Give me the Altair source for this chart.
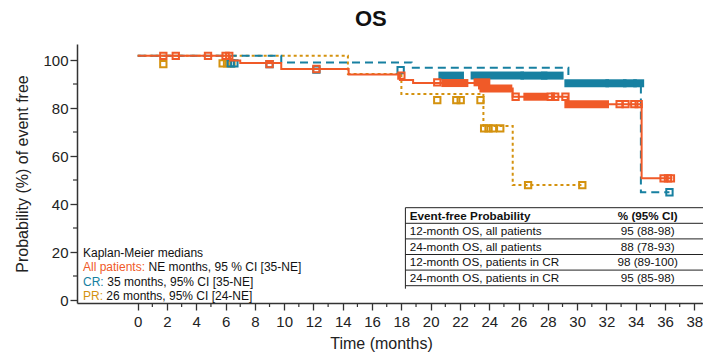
import altair as alt
import pandas as pd

ORANGE = "#F05A28"
BLUE = "#1780A1"
GOLD = "#D4920F"
FONT = "Liberation Sans"
AXC = "#333333"

# ---- Kaplan-Meier step curves (month, probability %) ----
all_t = [0, 6.3, 7.0, 9.8, 14.4, 17.9, 18.8, 23.3, 25.6, 29.35, 34.4, 36.5]
all_s = [101.75, 99.8, 98.75, 96.25, 94.0, 91.7, 90.4, 88.1, 84.7, 81.6, 50.7, 50.7]
cr_t = [0, 9.8, 18.7, 29.4, 34.35, 36.3]
cr_s = [101.75, 98.96, 96.8, 90.3, 44.9, 44.9]
pr_t = [0, 14.35, 18.0, 23.6, 25.6, 30.35]
pr_s = [101.75, 94.2, 85.8, 72.5, 47.9, 47.9]

# ---- censor marks ----
all_cens_t = [1.75, 2.6, 4.8, 6.0, 6.25, 9.0, 12.2, 18.0, 20.45, 25.8, 28.2, 28.5, 29.2,
              32.9, 33.3, 33.9, 34.2, 35.9, 36.2, 36.4]
all_cens_s = [101.75, 101.75, 101.75, 101.75, 101.75, 98.3, 96.25, 93.5, 90.7, 84.7, 84.7, 84.7, 84.7,
              81.6, 81.6, 81.6, 81.6, 50.7, 50.7, 50.7]
cr_cens_t = [6.35, 6.6, 9.0, 12.2, 17.95, 36.3]
cr_cens_s = [98.6, 98.6, 98.3, 96.0, 95.8, 44.9]
pr_cens_t = [1.75, 5.8, 6.1, 6.4, 20.45, 21.75, 22.05, 23.4, 23.65, 23.95, 24.25, 24.75, 26.65, 30.35]
pr_cens_s = [98.3, 98.6, 98.6, 98.6, 83.3, 83.3, 83.3, 83.3, 71.5, 71.5, 71.5, 71.5, 47.9, 47.9]

# dense clusters of censor marks (start month, end month, level)
all_clu_start = [21.0, 23.2, 23.6, 26.6, 29.4]
all_clu_end = [22.3, 23.8, 25.3, 27.7, 31.9]
all_clu_s = [90.4, 90.7, 88.1, 84.7, 81.6]
cr_clu_start = [20.8, 23.0, 26.4, 27.8, 29.4, 32.2, 33.4, 34.1]
cr_clu_end = [22.0, 26.1, 27.7, 28.8, 31.9, 33.1, 33.8, 34.3]
cr_clu_s = [93.5, 93.5, 93.5, 93.5, 90.3, 90.3, 90.3, 90.3]

# axis ticks
x_major = [0, 2, 4, 6, 8, 10, 12, 14, 16, 18, 20, 22, 24, 26, 28, 30, 32, 34, 36, 38]
x_minor = [1, 3, 5, 7, 9, 11, 13, 15, 17, 19, 21, 23, 25, 27, 29, 31, 33, 35, 37]
y_major = [0, 20, 40, 60, 80, 100]
y_minor = [10, 30, 50, 70, 90]

# legend text
legend_head = "Kaplan-Meier medians"
legend_labels = ["All patients:", "CR:", "PR:"]
legend_rest = ["NE months, 95 % CI [35-NE]", "35 months, 95% CI [35-NE]", "26 months, 95% CI [24-NE]"]
legend_colors = [ORANGE, BLUE, GOLD]

# table text
table_head = ["Event-free Probability", "% (95% CI)"]
table_rows = ["12-month OS, all patients", "24-month OS, all patients",
              "12-month OS, patients in CR", "24-month OS, patients in CR"]
table_vals = ["95 (88-98)", "88 (78-93)", "98 (89-100)", "95 (85-98)"]

W, H = 626, 259
xs = alt.Scale(domain=[-4.143, 38.59], nice=False, zero=False)
ys = alt.Scale(domain=[-1.25, 106.67], nice=False, zero=False)

X_AXIS = alt.Axis(values=x_major, tickSize=7, tickColor=AXC, domainColor=AXC, domainWidth=1.5,
                  tickWidth=1.3, labelFontSize=15, labelFont=FONT, labelColor="#222",
                  labelPadding=4, titleFont=FONT, titleFontSize=16, titleFontWeight="normal",
                  titleColor="#222", titleX=304, titleY=40, titleBaseline="middle",
                  grid=False, labelFlush=False)
Y_AXIS = alt.Axis(values=y_major, tickSize=7, tickColor=AXC, domainColor=AXC, domainWidth=1.5,
                  tickWidth=1.3, labelFontSize=15, labelFont=FONT, labelColor="#222",
                  labelPadding=2, titleFont=FONT, titleFontSize=16, titleFontWeight="normal",
                  titleColor="#222", titleX=-55, titleBaseline="middle", grid=False,
                  labelFlush=False)
X_TITLE = "Time (months)"
Y_TITLE = "Probability (%) of event free"


def X(f):
    return alt.X(f, type="quantitative", scale=xs, title=X_TITLE, axis=X_AXIS)


def Y(f):
    return alt.Y(f, type="quantitative", scale=ys, title=Y_TITLE, axis=Y_AXIS)


def curve(t, s, color, dash):
    df = pd.DataFrame({"t": t, "s": s})
    kw = dict(interpolate="step-after", color=color, strokeWidth=2)
    if dash:
        kw["strokeDash"] = dash
    return alt.Chart(df).mark_line(**kw).encode(x=X("t"), y=Y("s"))


def marks(t, s, color):
    df = pd.DataFrame({"t": t, "s": s})
    return alt.Chart(df).mark_point(shape="square", size=40, filled=False, color=color,
                                    strokeWidth=2, opacity=1).encode(x=X("t"), y=Y("s"))


def clusters(a, b, s, color):
    df = pd.DataFrame({"a": a, "b": b, "s": s})
    return alt.Chart(df).mark_rect(color=color, xOffset=-4, x2Offset=4, yOffset=-4, y2Offset=4).encode(
        x=X("a"), x2="b:Q", y=Y("s"), y2="s:Q")


xminor = alt.Chart(pd.DataFrame({"t": x_minor})).mark_rule(color=AXC, strokeWidth=1.2).encode(
    x=X("t"), y=alt.value(H), y2=alt.value(H + 4))
yminor = alt.Chart(pd.DataFrame({"s": y_minor})).mark_rule(color=AXC, strokeWidth=1.2).encode(
    y=Y("s"), x=alt.value(0), x2=alt.value(-4))

# title
title = alt.Chart(pd.DataFrame({"txt": ["OS"]})).mark_text(
    font=FONT, fontSize=22, fontWeight="bold", color="#111", align="center", baseline="middle").encode(
    text="txt:N", x=alt.value(293.8), y=alt.value(-24.8))

# legend text block
lx0, ly0, lstep = 6, 208.7, 14.5
leg_head = alt.Chart(pd.DataFrame({"txt": [legend_head]})).mark_text(
    font=FONT, fontSize=12, color="#111", align="left", baseline="middle").encode(
    text="txt:N", x=alt.value(lx0), y=alt.value(ly0))
lab_w = [65.5, 24.3, 23.3]
leg_df = pd.DataFrame({
    "lab": legend_labels, "rest": legend_rest, "col": legend_colors,
    "py": [ly0 + lstep * (i + 1) for i in range(3)],
    "px": [lx0] * 3,
    "px2": [lx0 + w for w in lab_w],
})
leg_lab = alt.Chart(leg_df).mark_text(font=FONT, fontSize=12, align="left", baseline="middle").encode(
    text="lab:N", x=alt.X("px:Q", scale=None), y=alt.Y("py:Q", scale=None),
    color=alt.Color("col:N", scale=None))
leg_rest = alt.Chart(leg_df).mark_text(font=FONT, fontSize=12, align="left", baseline="middle",
                                       color="#111").encode(
    text="rest:N", x=alt.X("px2:Q", scale=None), y=alt.Y("py:Q", scale=None))

# table
tx0, tx1, ty0, trh = 328.4, 626, 163.7, 15.6
tcol1, tcol2 = 332.7, 570.7
TFS = 11.7
head_df = pd.DataFrame({"a": [table_head[0]], "b": [table_head[1]], "py": [ty0 + trh * 0.5]})
body_df = pd.DataFrame({
    "a": table_rows, "b": table_vals,
    "py": [ty0 + trh * (i + 1.5) for i in range(4)],
})


def table_text(df, weight):
    base = alt.Chart(df)
    a = base.mark_text(font=FONT, fontSize=TFS, fontWeight=weight, align="left", baseline="middle",
                       color="#111").encode(text="a:N", y=alt.Y("py:Q", scale=None), x=alt.value(tcol1))
    b = base.mark_text(font=FONT, fontSize=TFS, fontWeight=weight, align="center", baseline="middle",
                       color="#111").encode(text="b:N", y=alt.Y("py:Q", scale=None), x=alt.value(tcol2))
    return [a, b]


hl_df = pd.DataFrame({"py": [ty0 + trh * i for i in range(6)]})
tab_h = alt.Chart(hl_df).mark_rule(color="#222", strokeWidth=1).encode(
    y=alt.Y("py:Q", scale=None), x=alt.value(tx0), x2=alt.value(tx1))
tab_v = alt.Chart(pd.DataFrame({"k": [0]})).mark_rule(color="#222", strokeWidth=1).encode(
    x=alt.value(tx0), y=alt.value(ty0), y2=alt.value(ty0 + trh * 5 + 3))

chart = alt.layer(
    xminor, yminor,
    curve(pr_t, pr_s, GOLD, [3, 3]),
    marks(pr_cens_t, pr_cens_s, GOLD),
    curve(cr_t, cr_s, BLUE, [8, 5]),
    clusters(cr_clu_start, cr_clu_end, cr_clu_s, BLUE),
    marks(cr_cens_t, cr_cens_s, BLUE),
    curve(all_t, all_s, ORANGE, None),
    clusters(all_clu_start, all_clu_end, all_clu_s, ORANGE),
    marks(all_cens_t, all_cens_s, ORANGE),
    title, leg_head, leg_lab, leg_rest, tab_h, tab_v,
    *table_text(head_df, "bold"), *table_text(body_df, "normal"),
).properties(
    width=W, height=H,
    autosize=alt.AutoSizeParams(type="none"),
    padding={"left": 77, "top": 44, "right": 0, "bottom": 50},
    background="white",
).configure_view(stroke=None)

chart.save("out.html", embed_options={"renderer": "svg", "actions": False})
